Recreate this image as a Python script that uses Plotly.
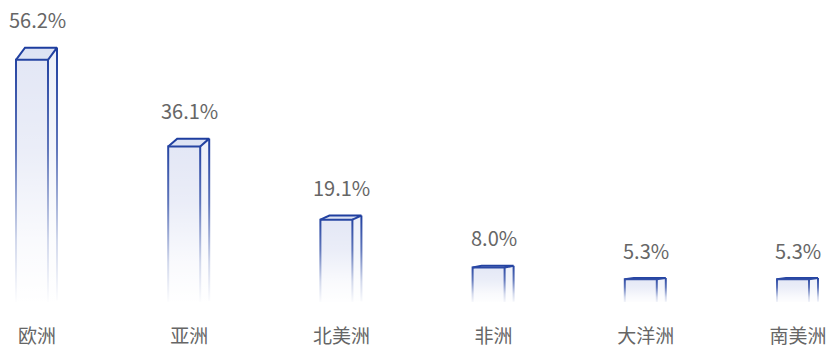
import plotly.graph_objects as go

# Share of respondents by continent (%)
categories = ["欧洲", "亚洲", "北美洲", "非洲", "大洋洲", "南美洲"]
values = [56.2, 36.1, 19.1, 8.0, 5.3, 5.3]
value_labels = ["56.2%", "36.1%", "19.1%", "8.0%", "5.3%", "5.3%"]

# Geometry of the pseudo-3D prisms (in axis units)
X_PX = 152.2          # pixels per category step
Y_PX = 4.31           # pixels per percentage point
FRONT_L = -21 / X_PX  # front face left edge, relative to category center
FRONT_R = 11 / X_PX   # front face right edge
BACK_R = 20 / X_PX    # right edge of the side face
DEPTH = 0.05          # top-face rise as a fraction of the bar height

EDGE = "#1c3c9e"
FRONT_FILL = "#e2e6f5"
SIDE_FILL = "#edf0f9"
TOP_FILL = "#dde3f4"

fig = go.Figure()


def poly(xs, ys, fill=None, line=None, width=0, gradient=None):
    kw = dict(x=xs, y=ys, mode="lines", hoverinfo="skip", showlegend=False)
    if fill is not None or gradient is not None:
        kw["fill"] = "toself"
    if fill is not None:
        kw["fillcolor"] = fill
    if gradient is not None:
        kw["fillgradient"] = gradient
    if line is None:
        kw["line"] = dict(width=0, color="rgba(0,0,0,0)")
    else:
        kw["line"] = dict(width=width, color=line)
    fig.add_trace(go.Scatter(**kw))


for i, v in enumerate(values):
    xl, xr, xb = i + FRONT_L, i + FRONT_R, i + BACK_R
    dxb = BACK_R - FRONT_R
    xbl = xl + dxb
    rise = v * DEPTH
    vt = v + rise
    # faces
    poly([xl, xr, xr, xl, xl], [0, 0, v, v, 0], fill=FRONT_FILL)
    poly([xr, xb, xb, xr, xr], [0, rise * 0.15, vt, v, 0], fill=SIDE_FILL)
    poly([xl, xbl, xb, xr, xl], [v, vt, vt, v, v], fill=TOP_FILL)
    # edges
    poly([xl, xl, xr, xr], [0, v, v, 0], line=EDGE, width=2)
    poly([xl, xbl, xb, xr], [v, vt, vt, v], line=EDGE, width=2)
    poly([xb, xb], [vt, rise * 0.15], line=EDGE, width=2)
    # white fade toward the baseline, over the whole prism
    px, py = 2 / X_PX, 2 / Y_PX
    poly([xl - px, xr + px, xb + px, xb + px, xbl, xl - px, xl - px],
         [-py, -py, 0, vt + py, vt + py, v + py, -py],
         gradient=dict(type="vertical",
                       colorscale=[[0, "rgba(255,255,255,1)"],
                                   [0.25, "rgba(255,255,255,0.8)"],
                                   [0.6, "rgba(255,255,255,0.3)"],
                                   [1, "rgba(255,255,255,0)"]]))

for i, (v, t) in enumerate(zip(values, value_labels)):
    fig.add_annotation(x=i, y=v * (1 + DEPTH), text=t, showarrow=False,
                       yanchor="middle", yshift=28,
                       font=dict(size=20, color="#666666",
                                 family="Noto Sans CJK SC"))

fig.update_layout(
    width=830, height=348,
    margin=dict(l=0, r=0, t=0, b=46),
    paper_bgcolor="white", plot_bgcolor="white",
    xaxis=dict(range=[-37 / X_PX, (830 - 37) / X_PX],
               tickvals=list(range(len(categories))), ticktext=categories,
               ticks="outside", ticklen=17, tickcolor="rgba(0,0,0,0)",
               automargin=False,
               showgrid=False, zeroline=False, showline=False, fixedrange=True,
               tickfont=dict(size=19, color="#666666",
                             family="Noto Sans CJK SC")),
    yaxis=dict(range=[0, 302 / Y_PX], visible=False, fixedrange=True,
               automargin=False),
)

fig.write_html("out.html", config={"displayModeBar": False})
